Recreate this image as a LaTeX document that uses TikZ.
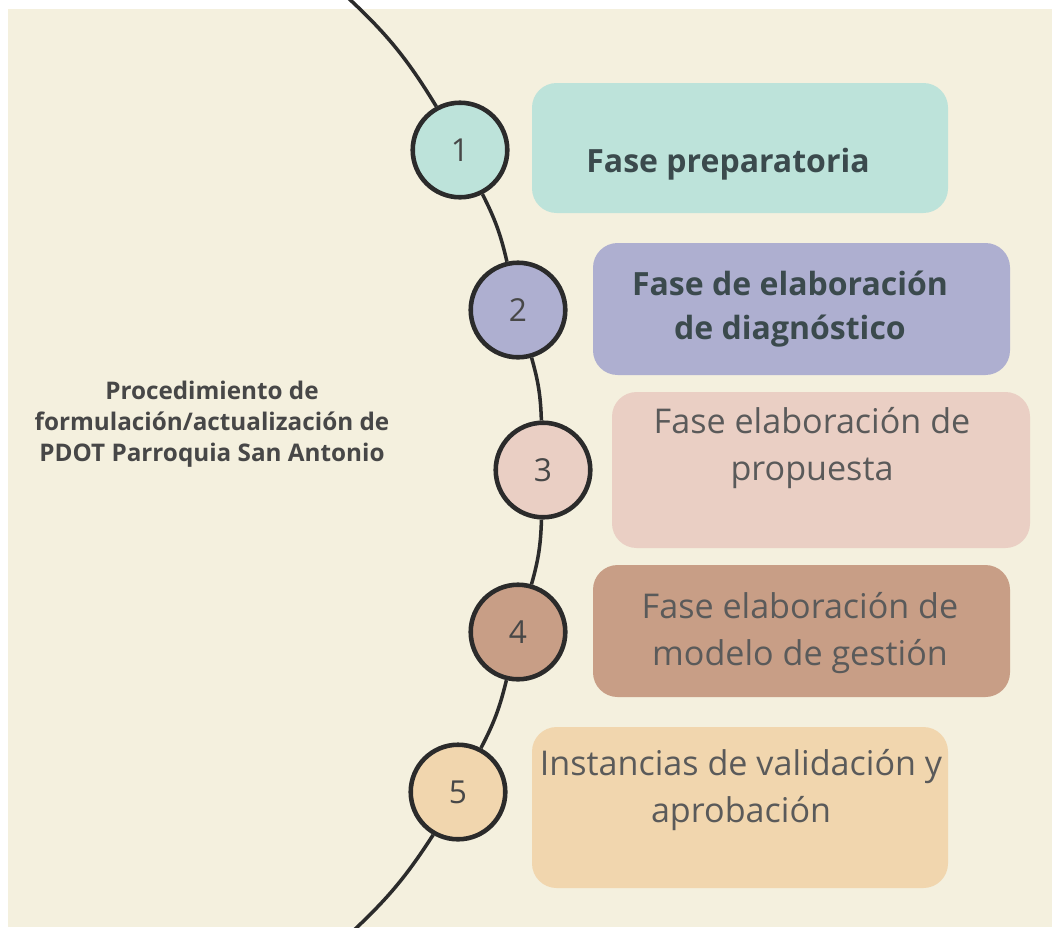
\documentclass[tikz,border=0pt]{standalone}
\usepackage{fontspec}
\setmainfont{Open Sans}
\usetikzlibrary{positioning}

\definecolor{bgcream}{HTML}{F4F0DE}
\definecolor{tealfill}{HTML}{BDE3DA}
\definecolor{lilacfill}{HTML}{AEAFD0}
\definecolor{rosefill}{HTML}{EACFC4}
\definecolor{clayfill}{HTML}{C89E86}
\definecolor{sandfill}{HTML}{F1D6AE}
\definecolor{slatetext}{HTML}{3B4A4D}
\definecolor{greytext}{HTML}{474747}
\definecolor{arcline}{HTML}{2B2B2B}

\tikzset{
  phasebox/.style={rounded corners=7pt, inner sep=0pt, anchor=north west},
  stepdot/.style={circle, draw=arcline, line width=1.3pt, minimum size=2.7cm*0.35, inner sep=0pt,
    font=\fontsize{9}{9}\selectfont, text=greytext},
  boldtxt/.style={font=\bfseries\fontsize{9.1}{12.3}\selectfont, text=slatetext, align=center},
  lighttxt/.style={font=\fontsize{9.7}{13.4}\selectfont, text=greytext!90, align=center},
}

\begin{document}
\begin{tikzpicture}[x=0.01cm, y=-0.01cm]
    \useasboundingbox (0,0) rectangle (1052,927);
    \fill[white] (0,0) rectangle (1052,927);
    \fill[bgcream] (8,9) rectangle (1052,927);

    % phase boxes
    \fill[tealfill, phasebox] (532,83) rectangle (948,213);
    \fill[lilacfill, phasebox] (593,243) rectangle (1010,375);
    \fill[rosefill, phasebox] (612,392) rectangle (1030,548);
    \fill[clayfill, phasebox] (593,565) rectangle (1010,697);
    \fill[sandfill, phasebox] (532,727) rectangle (948,888);

    \node[boldtxt] (t1) at (728,164) {Fase preparatoria};
    \node[boldtxt] (t2) at (790,309) {Fase de elaboración\\de diagnóstico};
    \node[lighttxt] (t3) at (812,448) {Fase elaboración de\\propuesta};
    \node[lighttxt] (t4) at (800,633) {Fase elaboración de\\modelo de gestión};
    \node[lighttxt] (t5) at (741,790) {Instancias de validación y\\aprobación};

    % title on the left
    \node[font=\bfseries\fontsize{6.9}{8.9}\selectfont, text=greytext, align=center] (title) at (212,424)
        {Procedimiento de\\formulación/actualización de\\PDOT Parroquia San Antonio};

    % the curve and its steps
    \coordinate (top) at (345,-5);
    \coordinate (bot) at (352,932);
    \node[stepdot, fill=tealfill] (s1) at (460,150) {1};
    \node[stepdot, fill=lilacfill] (s2) at (518,310) {2};
    \node[stepdot, fill=rosefill] (s3) at (543,470) {3};
    \node[stepdot, fill=clayfill] (s4) at (518,632) {4};
    \node[stepdot, fill=sandfill] (s5) at (458,792) {5};

    \draw[arcline, line width=1pt] (top) to[bend left=8] (s1);
    \draw[arcline, line width=1pt] (s1) to[bend left=7] (s2);
    \draw[arcline, line width=1pt] (s2) to[bend left=7] (s3);
    \draw[arcline, line width=1pt] (s3) to[bend left=7] (s4);
    \draw[arcline, line width=1pt] (s4) to[bend left=7] (s5);
    \draw[arcline, line width=1pt] (s5) to[bend left=7] (bot);

\end{tikzpicture}
\end{document}
